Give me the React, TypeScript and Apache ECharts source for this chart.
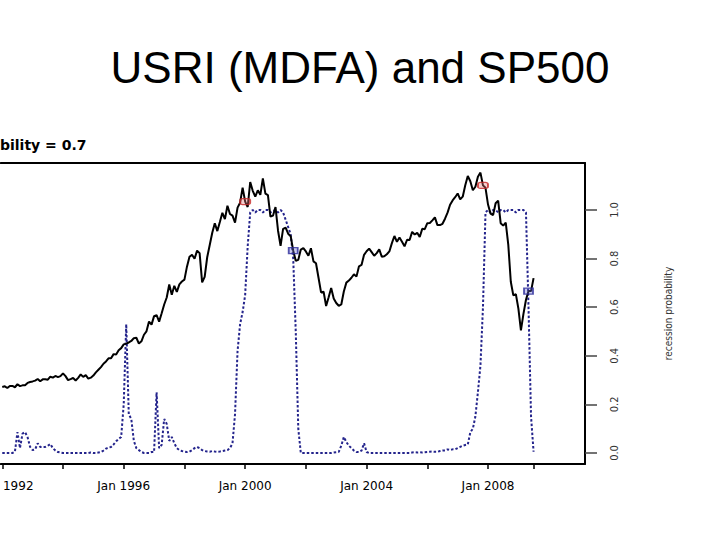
import React, { useEffect, useRef } from "react";
import * as echarts from "echarts";

// Monthly data, first value = Jan 1992
const startYear = 1992;

// S&P 500 (monthly)
const sp500 = [
  409, 413, 404, 415, 415, 408, 424, 414, 418, 419, 431, 436,
  439, 443, 452, 440, 450, 451, 448, 464, 459, 468, 462, 467,
  482, 467, 446, 451, 457, 444, 458, 476, 463, 472, 454, 459,
  470, 487, 501, 515, 533, 545, 562, 562, 584, 582, 605, 616,
  636, 640, 646, 654, 669, 671, 640, 652, 687, 705, 757, 741,
  786, 791, 757, 801, 848, 885, 954, 900, 947, 915, 955, 970,
  980, 1049, 1102, 1112, 1091, 1134, 1121, 965, 995, 1099, 1164, 1229,
  1280, 1238, 1286, 1335, 1302, 1373, 1329, 1320, 1283, 1363, 1389, 1469,
  1395, 1366, 1499, 1452, 1421, 1455, 1431, 1518, 1437, 1429, 1315, 1320,
  1366, 1240, 1160, 1250, 1256, 1224, 1211, 1134, 1080, 1085, 1140, 1148,
  1130, 1107, 1147, 1077, 1067, 990, 912, 916, 840, 886, 936, 880,
  856, 841, 848, 917, 964, 975, 990, 1008, 996, 1051, 1058, 1112,
  1131, 1145, 1126, 1107, 1121, 1141, 1102, 1104, 1115, 1130, 1174, 1212,
  1181, 1204, 1181, 1157, 1192, 1191, 1234, 1220, 1229, 1207, 1250, 1248,
  1280, 1281, 1295, 1311, 1270, 1270, 1277, 1304, 1336, 1378, 1401, 1418,
  1438, 1407, 1421, 1482, 1531, 1503, 1455, 1474, 1527, 1549, 1481, 1468,
  1379, 1331, 1323, 1386, 1400, 1280, 1267, 1283, 1166, 969, 896, 903,
  826, 710, 798, 873, 919, 919, 988,
];

// Recession probability (monthly)
const recessionProb = [
  0, 0, 0, 0, 0, 0.005, 0.086, 0.02, 0.08, 0.086, 0.065, 0.025,
  0.012, 0.015, 0.04, 0.025, 0.025, 0.025, 0.03, 0.037, 0.02, 0.01, 0.004, 0.002,
  0, 0, 0, 0, 0, 0, 0, 0, 0, 0, 0, 0.002,
  0, 0, 0.002, 0.004, 0.01, 0.018, 0.022, 0.025, 0.035, 0.048, 0.058, 0.066,
  0.2, 0.53, 0.16, 0.14, 0.05, 0.02, 0.012, 0.004, 0, 0, 0, 0.004,
  0.004, 0.25, 0.02, 0.033, 0.14, 0.12, 0.05, 0.066, 0.04, 0.02, 0.012, 0.008,
  0.006, 0.004, 0.006, 0.012, 0.02, 0.025, 0.02, 0.012, 0.008, 0.006, 0.005, 0.008,
  0.006, 0.005, 0.006, 0.008, 0.01, 0.012, 0.02, 0.04, 0.16, 0.42, 0.53, 0.58,
  0.65, 0.85, 0.99, 1.0, 0.99, 1.0, 1.0, 0.99, 1.0, 1.0, 0.99, 0.995,
  1.0, 0.99, 1.0, 0.99, 0.96, 0.93, 0.9, 0.8, 0.5, 0.1, 0, 0,
  0, 0, 0, 0, 0, 0, 0, 0, 0, 0, 0, 0.002,
  0.003, 0.005, 0.03, 0.066, 0.045, 0.03, 0.02, 0.01, 0.004, 0.004, 0.01, 0.04,
  0.004, 0, 0, 0, 0, 0, 0, 0, 0, 0, 0, 0,
  0, 0, 0, 0, 0, 0, 0.002, 0.003, 0.002, 0.003, 0.002, 0.003,
  0.004, 0.005, 0.006, 0.005, 0.005, 0.008, 0.01, 0.01, 0.015, 0.012, 0.015, 0.015,
  0.02, 0.025, 0.03, 0.033, 0.035, 0.085, 0.1, 0.15, 0.25, 0.36, 0.6, 0.99,
  1.0, 0.99, 1.0, 1.0, 0.99, 1.0, 1.0, 0.99, 1.0, 1.0, 1.0, 0.99,
  1.0, 1.0, 1.0, 0.99, 0.6, 0.15, 0.005,
];

// Months (index into the series) where the signal switches on / off
const signalOnIdx = [96, 190];
const signalOffIdx = [115, 208];

const xTickYears = [1992, 1994, 1996, 1998, 2000, 2002, 2004, 2006, 2008, 2009.5];
const xLabelYears = [1992, 1996, 2000, 2004, 2008];
const probTicks = [0, 0.2, 0.4, 0.6, 0.8, 1.0];

// visible time window of the cropped plot
const xMin = 1991.951;
const xMax = 2011.194;

const monthTime = (i: number) => startYear + i / 12;

export default function App() {
  const ref = useRef<HTMLDivElement>(null);

  useEffect(() => {
    if (!ref.current) return;
    const chart = echarts.init(ref.current, undefined, { renderer: "svg" });

    const narrow =
      "'Liberation Sans Narrow', 'Arial Narrow', 'DejaVu Sans Condensed', 'Liberation Sans', sans-serif";

    chart.setOption({
      animation: false,
      backgroundColor: "#ffffff",
      title: {
        text: "USRI (MDFA) and SP500",
        left: "center",
        top: 40,
        textStyle: {
          fontFamily: "'Liberation Sans', Arial, sans-serif",
          fontSize: 44,
          fontWeight: "normal",
          color: "#000",
        },
      },
      graphic: [
        {
          type: "text",
          x: 0,
          y: 145,
          style: {
            text: "bility = 0.7",
            align: "left",
            verticalAlign: "middle",
            fontFamily: "'DejaVu Sans', sans-serif",
            fontWeight: "bold",
            fontSize: 14,
            fill: "#000",
          },
        },
      ],
      grid: {
        left: 0,
        right: 135,
        top: 163,
        bottom: 76,
        show: false,
      },
      xAxis: [
        {
          type: "value",
          position: "bottom",
          min: xMin,
          max: xMax,
          splitLine: { show: false },
          axisLine: { show: true, onZero: false, lineStyle: { color: "#000", width: 2 } },
          axisTick: {
            show: true,
            customValues: xTickYears,
            length: 5,
            lineStyle: { color: "#000", width: 1.5 },
          },
          axisLabel: {
            customValues: xLabelYears,
            formatter: (v: number) =>
              Math.round(v) === 1992 ? "{first|1992}" : "Jan " + Math.round(v),
            margin: 16,
            fontFamily: "'DejaVu Sans', sans-serif",
            fontSize: 12,
            color: "#000",
            rich: {
              first: {
                fontFamily: "'DejaVu Sans', sans-serif",
                fontSize: 12,
                color: "#000",
                padding: [0, 0, 0, 32],
              },
            },
          },
        },
        {
          type: "value",
          position: "top",
          min: xMin,
          max: xMax,
          splitLine: { show: false },
          axisLine: { show: true, onZero: false, lineStyle: { color: "#000", width: 2 } },
          axisTick: { show: false },
          axisLabel: { show: false },
        },
      ],
      yAxis: [
        {
          type: "value",
          min: 0,
          max: 1600,
          show: false,
        },
        {
          type: "value",
          position: "right",
          min: -0.04527,
          max: 1.19342,
          splitLine: { show: false },
          axisLine: { show: true, onZero: false, lineStyle: { color: "#000", width: 2 } },
          axisTick: {
            show: true,
            customValues: probTicks,
            length: 12,
            lineStyle: { color: "#444", width: 1.5 },
          },
          axisLabel: {
            customValues: probTicks,
            formatter: (v: number) => v.toFixed(1),
            rotate: 90,
            margin: 24,
            fontFamily: narrow,
            fontSize: 11,
            color: "#333",
          },
          name: "recession probability",
          nameLocation: "middle",
          nameRotate: 90,
          nameGap: 78,
          nameTextStyle: {
            fontFamily: narrow,
            fontSize: 10,
            color: "#333",
          },
        },
      ],
      series: [
        {
          name: "recession probability",
          type: "line",
          xAxisIndex: 0,
          yAxisIndex: 1,
          data: recessionProb.map((v, i) => [monthTime(i), v]),
          symbol: "none",
          lineStyle: { color: "#24248c", width: 2, type: [2.5, 2] },
          z: 2,
        },
        {
          name: "SP500",
          type: "line",
          xAxisIndex: 0,
          yAxisIndex: 0,
          data: sp500.map((v, i) => [monthTime(i), v]),
          symbol: "none",
          lineStyle: { color: "#000", width: 2 },
          z: 3,
        },
        {
          name: "signal on",
          type: "scatter",
          xAxisIndex: 0,
          yAxisIndex: 0,
          data: signalOnIdx.map((i) => [monthTime(i), sp500[i]]),
          symbol: "roundRect",
          symbolSize: [10, 6],
          itemStyle: {
            color: "rgba(230,120,120,0.45)",
            borderColor: "#c62828",
            borderWidth: 1.5,
          },
          z: 5,
        },
        {
          name: "signal off",
          type: "scatter",
          xAxisIndex: 0,
          yAxisIndex: 0,
          data: signalOffIdx.map((i) => [monthTime(i), sp500[i]]),
          symbol: "rect",
          symbolSize: [9, 6],
          itemStyle: {
            color: "rgba(110,110,210,0.45)",
            borderColor: "#2a2a9a",
            borderWidth: 1.5,
          },
          z: 5,
        },
      ],
    });

    return () => chart.dispose();
  }, []);

  return (
    <div
      ref={ref}
      style={{ position: "absolute", left: 0, top: 0, width: 720, height: 540 }}
    />
  );
}
